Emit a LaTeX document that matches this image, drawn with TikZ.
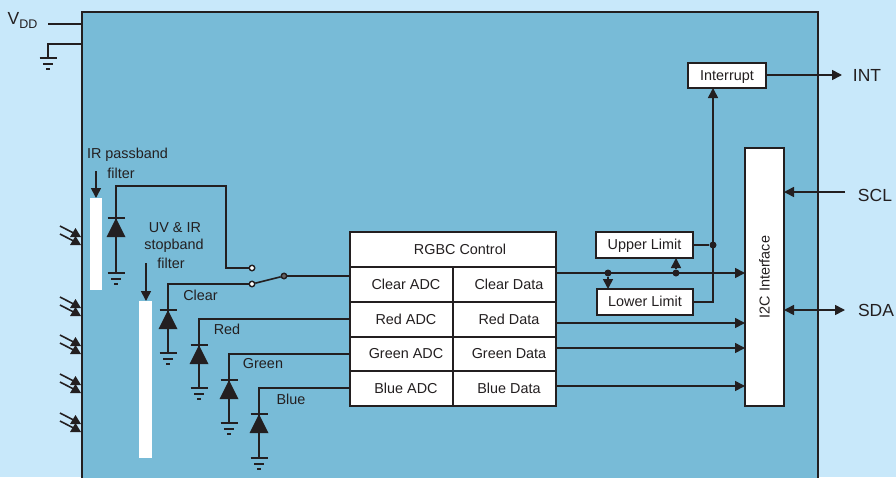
\documentclass[tikz,border=0pt]{standalone}
\usepackage{fontspec}
\setmainfont{Liberation Sans}
\usepackage{tikz}
\usetikzlibrary{arrows.meta,positioning}
\definecolor{ink}{HTML}{231F20}
\definecolor{sky}{HTML}{C8E8FA}
\definecolor{chipblue}{HTML}{78BBD7}

\begin{document}
\begin{tikzpicture}[
  x=1pt, y=-1pt,
  font=\fontsize{14.4}{17}\selectfont,
  text=ink,
  wire/.style={draw=ink, line width=1.6pt},
  arr/.style={wire, -{Triangle[length=10pt,width=10pt]}},
  darr/.style={wire, {Triangle[length=10pt,width=10pt]}-{Triangle[length=10pt,width=10pt]}},
  box/.style={rectangle, draw=ink, fill=white, line width=1.7pt, outer sep=0pt, inner sep=0pt,
              text height=11.5pt, text depth=2pt},
  cell/.style={box, minimum width=103pt, minimum height=35pt,
               execute at begin node=\hspace*{9pt}},
  lim/.style={box, minimum width=97pt, minimum height=26pt},
  filt/.style={rectangle, fill=white, inner sep=0pt},
  lab/.style={inner sep=0pt, align=center},
  pin/.style={inner sep=0pt, font=\fontsize{17.5}{20}\selectfont},
  dot/.style={circle, fill=ink, inner sep=0pt, minimum size=7pt},
  term/.style={circle, draw=ink, fill=white, line width=1.4pt, inner sep=0pt, minimum size=5.5pt},
  pivot/.style={circle, draw=ink, fill=ink!70, line width=1.4pt, inner sep=0pt, minimum size=5.5pt},
  pics/gnd/.style={code={
    \draw[wire] (-8.5,0) -- (8.5,0);
    \draw[wire] (-5,6) -- (5,6);
    \draw[wire] (-2,11) -- (2,11);
  }},
  pics/diode/.style={code={
    \draw[wire] (-8.5,0) -- (8.5,0);
    \fill[ink] (0,0) -- (9.5,19) -- (-9.5,19) -- cycle;
  }},
  pics/light/.style={code={
    \fill[ink] (-5.5,0) -- (0,-9) -- (5.5,0) -- cycle;
    \fill[ink] (-5.5,-8) -- (0,-17) -- (5.5,-8) -- cycle;
    \draw[wire] (-15.5,-19) -- (-1,-11.5);
    \draw[wire] (-15.5,-11) -- (-1,-3.5);
  }}]

\clip (0,0) rectangle (896,477);
\fill[sky] (0,0) rectangle (896,477);

\node[rectangle, draw=ink, fill=chipblue, line width=1.8pt, inner sep=0pt,
      minimum width=736pt, minimum height=500pt, anchor=north west] (chip) at (81,11) {};

% supply
\node[pin, anchor=west] (vdd) at (7.5,20.5) {V\raisebox{-0.35ex}{\fontsize{12.5}{14}\selectfont DD}};
\coordinate (vddin) at (48,24);
\coordinate (gndin) at (48,44);
\coordinate (gnd0) at (48,58);
\draw[wire] (vddin) -- (vddin -| chip.west);
\draw[wire] (gnd0) -- (gndin) -- (gndin -| chip.west);
\pic at (gnd0) {gnd};

% incoming light
\foreach \ly in {245,316,354,393,432}
  \pic at (75.5,\ly) {light};

% filters
\node[filt, minimum width=12pt, minimum height=92pt, anchor=north west] (irfilt) at (90,198) {};
\node[filt, minimum width=13pt, minimum height=157pt, anchor=north west] (uvfilt) at (139,301) {};
\node[lab] (irtxt) at (127.5,155) {IR passband};
\node[lab] (irtxt2) at (121,173) {filter};
\node[lab] (uvtxt) at (175,228) {UV \& IR};
\node[lab] (uvtxt2) at (174,246) {stopband};
\node[lab] (uvtxt3) at (171,263) {filter};
\coordinate (irarr) at (96,171);
\coordinate (uvarr) at (146,263);
\draw[arr] (irarr) -- (irfilt.north -| irarr);
\draw[arr] (uvarr) -- (uvfilt.north -| uvarr);

% RGBC block
\node[box, minimum width=206pt, minimum height=35pt, anchor=north west,
      execute at begin node=\hspace*{14pt}] (rgbc) at (350,232) {RGBC Control};
\node[cell, below=0pt of rgbc.south west, anchor=north west] (clearadc) {Clear ADC};
\node[cell, below=0pt of clearadc] (redadc) {Red ADC};
\node[cell, below=0pt of redadc, minimum height=34pt] (greenadc) {Green ADC};
\node[cell, below=0pt of greenadc] (blueadc) {Blue ADC};
\node[cell, right=0pt of clearadc] (cleardata) {Clear Data};
\node[cell, right=0pt of redadc] (reddata) {Red Data};
\node[cell, right=0pt of greenadc, minimum height=34pt] (greendata) {Green Data};
\node[cell, right=0pt of blueadc] (bluedata) {Blue Data};

% limits, interrupt, interface
\node[lim, anchor=north west] (upper) at (596,232) {Upper Limit};
\node[lim, anchor=north west, minimum width=96pt] (lower) at (597,289) {Lower Limit};
\node[box, minimum width=78pt, minimum height=25pt, anchor=north west] (irq) at (688,63) {Interrupt};
\node[box, minimum width=39pt, minimum height=258pt, anchor=north west] (i2c) at (745,148) {};
\node[rotate=90, inner sep=0pt] (i2ctxt) at (i2c.center) {I2C Interface};

% photodiodes
\pic at (116,218) {diode};
\coordinate (irtop) at (116,186);
\coordinate (irbend) at (226,186);
\coordinate (irgnd) at (116,273);
\pic at (irgnd) {gnd};
\node[term] (swir) at (252,268) {};
\node[term] (swclear) at (252,284) {};
\node[pivot] (swout) at (284,276) {};
\draw[wire] (irgnd) -- (irtop) -- (irbend) |- (swir);
\draw[wire] (swclear) -- (swout);
\draw[wire] (swout) -- (swout -| clearadc.west);

\foreach \nm/\dx/\bar/\gy/\lbl/\lx/\ly in {clear/168/310/353/Clear/200.5/295,red/199/345/388/Red/227/329,
    green/229/380/423/Green/263/364,blue/259/414/458/Blue/291/399} {
  \pic at (\dx,\bar) {diode};
  \pic at (\dx,\gy) {gnd};
  \coordinate (\nm b) at (\dx,\bar);
  \coordinate (\nm g) at (\dx,\gy);
  \draw[wire] (\nm b) -- (\nm g);
  \node[lab] (\nm txt) at (\lx,\ly) {\lbl};
}
\draw[wire] (clearb) |- (swclear);
\draw[wire] (redb) |- (redadc.west |- 0,319);
\draw[wire] (greenb) |- (greenadc.west |- 0,354);
\draw[wire] (blueb) |- (blueadc.west |- 0,388);

% outputs
\coordinate (clearout) at (cleardata.east |- 0,273);
\draw[arr] (clearout) -- (clearout -| i2c.west);
\draw[arr] (reddata.east |- 0,323) -- (i2c.west |- 0,323);
\draw[arr] (greendata.east |- 0,348) -- (i2c.west |- 0,348);
\draw[arr] (bluedata.east |- 0,386) -- (i2c.west |- 0,386);

\node[dot] (tapl) at (608,273) {};
\node[dot] (tapu) at (676,273) {};
\node[dot] (tapi) at (713,245) {};
\draw[arr] (tapl) -- (tapl |- lower.north);
\draw[arr] (tapu) -- (tapu |- upper.south);
\draw[wire] (upper.east) -- (tapi);
\draw[arr] (lower.east) -| (irq.south -| tapi);

% pins
\node[pin] (int) at (867,75.5) {INT};
\node[pin] (scl) at (875,195) {SCL};
\node[pin] (sda) at (876,310) {SDA};
\draw[arr] (irq.east |- 0,75) -- (842,75);
\draw[arr] (845,192) -- (i2c.east |- 0,192);
\draw[darr] (845,310) -- (i2c.east |- 0,310);
\end{tikzpicture}
\end{document}
